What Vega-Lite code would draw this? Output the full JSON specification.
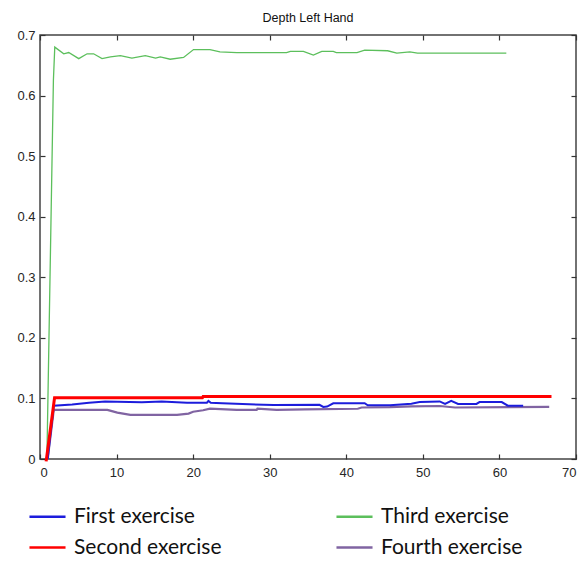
{
  "$schema": "https://vega.github.io/schema/vega-lite/v6.json",
  "width": 536,
  "height": 424,
  "autosize": {"type": "none"},
  "padding": {"left": 40, "top": 35, "right": 9, "bottom": 103},
  "background": "white",
  "title": {"text": "Depth Left Hand", "font": "Liberation Sans", "fontSize": 12.5, "fontWeight": "normal", "color": "#111111", "anchor": "middle", "offset": 5},
  "config": {
    "view": {"stroke": "#444444", "strokeWidth": 1.5},
    "axis": {"grid": false, "domain": false, "tickColor": "#333333", "tickSize": -5, "tickWidth": 1.2, "labelFont": "Liberation Sans", "labelFontSize": 13, "labelColor": "#262626", "title": null}
  },
  "data": {"values": [
    {"ex": "First exercise", "t": 1.0, "v": 0.0},
    {"ex": "First exercise", "t": 1.8, "v": 0.088},
    {"ex": "First exercise", "t": 4.2, "v": 0.09},
    {"ex": "First exercise", "t": 6.4, "v": 0.093},
    {"ex": "First exercise", "t": 8.5, "v": 0.095},
    {"ex": "First exercise", "t": 13.3, "v": 0.0936},
    {"ex": "First exercise", "t": 15.9, "v": 0.095},
    {"ex": "First exercise", "t": 19.2, "v": 0.093},
    {"ex": "First exercise", "t": 21.8, "v": 0.093},
    {"ex": "First exercise", "t": 22.0, "v": 0.096},
    {"ex": "First exercise", "t": 22.3, "v": 0.093},
    {"ex": "First exercise", "t": 23.8, "v": 0.092},
    {"ex": "First exercise", "t": 30.5, "v": 0.089},
    {"ex": "First exercise", "t": 36.5, "v": 0.0895},
    {"ex": "First exercise", "t": 37.0, "v": 0.086},
    {"ex": "First exercise", "t": 37.5, "v": 0.0865},
    {"ex": "First exercise", "t": 38.3, "v": 0.092},
    {"ex": "First exercise", "t": 42.4, "v": 0.092},
    {"ex": "First exercise", "t": 42.8, "v": 0.0887},
    {"ex": "First exercise", "t": 45.7, "v": 0.0887},
    {"ex": "First exercise", "t": 48.5, "v": 0.0914},
    {"ex": "First exercise", "t": 49.6, "v": 0.094},
    {"ex": "First exercise", "t": 52.2, "v": 0.095},
    {"ex": "First exercise", "t": 52.9, "v": 0.091},
    {"ex": "First exercise", "t": 53.7, "v": 0.096},
    {"ex": "First exercise", "t": 54.6, "v": 0.091},
    {"ex": "First exercise", "t": 57.0, "v": 0.091},
    {"ex": "First exercise", "t": 57.4, "v": 0.094},
    {"ex": "First exercise", "t": 60.3, "v": 0.094},
    {"ex": "First exercise", "t": 61.1, "v": 0.088},
    {"ex": "First exercise", "t": 63.1, "v": 0.088},
    {"ex": "Second exercise", "t": 0.8, "v": -0.004},
    {"ex": "Second exercise", "t": 1.9, "v": 0.101},
    {"ex": "Second exercise", "t": 21.2, "v": 0.101},
    {"ex": "Second exercise", "t": 21.3, "v": 0.103},
    {"ex": "Second exercise", "t": 52.2, "v": 0.103},
    {"ex": "Second exercise", "t": 66.8, "v": 0.103},
    {"ex": "Third exercise", "t": 0.9, "v": 0.0},
    {"ex": "Third exercise", "t": 1.75, "v": 0.625},
    {"ex": "Third exercise", "t": 1.93, "v": 0.68},
    {"ex": "Third exercise", "t": 3.1, "v": 0.669},
    {"ex": "Third exercise", "t": 3.75, "v": 0.671},
    {"ex": "Third exercise", "t": 5.06, "v": 0.661},
    {"ex": "Third exercise", "t": 6.15, "v": 0.669},
    {"ex": "Third exercise", "t": 7.0, "v": 0.669},
    {"ex": "Third exercise", "t": 8.1, "v": 0.661},
    {"ex": "Third exercise", "t": 9.2, "v": 0.664},
    {"ex": "Third exercise", "t": 10.5, "v": 0.666},
    {"ex": "Third exercise", "t": 12.0, "v": 0.662},
    {"ex": "Third exercise", "t": 13.75, "v": 0.666},
    {"ex": "Third exercise", "t": 15.1, "v": 0.662},
    {"ex": "Third exercise", "t": 15.7, "v": 0.664},
    {"ex": "Third exercise", "t": 17.0, "v": 0.66},
    {"ex": "Third exercise", "t": 18.75, "v": 0.663},
    {"ex": "Third exercise", "t": 20.05, "v": 0.676},
    {"ex": "Third exercise", "t": 22.2, "v": 0.676},
    {"ex": "Third exercise", "t": 23.5, "v": 0.672},
    {"ex": "Third exercise", "t": 25.7, "v": 0.671},
    {"ex": "Third exercise", "t": 32.2, "v": 0.671},
    {"ex": "Third exercise", "t": 32.7, "v": 0.673},
    {"ex": "Third exercise", "t": 34.4, "v": 0.673},
    {"ex": "Third exercise", "t": 35.7, "v": 0.667},
    {"ex": "Third exercise", "t": 36.8, "v": 0.673},
    {"ex": "Third exercise", "t": 38.3, "v": 0.673},
    {"ex": "Third exercise", "t": 38.7, "v": 0.671},
    {"ex": "Third exercise", "t": 41.4, "v": 0.671},
    {"ex": "Third exercise", "t": 42.4, "v": 0.675},
    {"ex": "Third exercise", "t": 45.4, "v": 0.674},
    {"ex": "Third exercise", "t": 46.6, "v": 0.67},
    {"ex": "Third exercise", "t": 48.3, "v": 0.672},
    {"ex": "Third exercise", "t": 49.3, "v": 0.67},
    {"ex": "Third exercise", "t": 60.9, "v": 0.67},
    {"ex": "Fourth exercise", "t": 1.0, "v": 0.0},
    {"ex": "Fourth exercise", "t": 1.8, "v": 0.081},
    {"ex": "Fourth exercise", "t": 8.8, "v": 0.081},
    {"ex": "Fourth exercise", "t": 10.1, "v": 0.0765},
    {"ex": "Fourth exercise", "t": 11.8, "v": 0.073},
    {"ex": "Fourth exercise", "t": 17.9, "v": 0.073},
    {"ex": "Fourth exercise", "t": 19.4, "v": 0.075},
    {"ex": "Fourth exercise", "t": 20.0, "v": 0.078},
    {"ex": "Fourth exercise", "t": 21.3, "v": 0.0805},
    {"ex": "Fourth exercise", "t": 22.2, "v": 0.083},
    {"ex": "Fourth exercise", "t": 25.7, "v": 0.081},
    {"ex": "Fourth exercise", "t": 28.3, "v": 0.081},
    {"ex": "Fourth exercise", "t": 28.4, "v": 0.083},
    {"ex": "Fourth exercise", "t": 30.9, "v": 0.081},
    {"ex": "Fourth exercise", "t": 34.6, "v": 0.082},
    {"ex": "Fourth exercise", "t": 41.5, "v": 0.083},
    {"ex": "Fourth exercise", "t": 42.0, "v": 0.085},
    {"ex": "Fourth exercise", "t": 45.7, "v": 0.0855},
    {"ex": "Fourth exercise", "t": 48.5, "v": 0.087},
    {"ex": "Fourth exercise", "t": 52.2, "v": 0.0875},
    {"ex": "Fourth exercise", "t": 54.2, "v": 0.085},
    {"ex": "Fourth exercise", "t": 66.5, "v": 0.086}
  ]},
  "layer": [
    {
      "encoding": {
        "x": {"field": "t", "type": "quantitative", "scale": {"domain": [0, 70], "nice": false}, "axis": {"values": [0,10,20,30,40,50,60,70], "labelPadding": 12, "format": "d"}},
        "y": {"field": "v", "type": "quantitative", "scale": {"domain": [0, 0.7], "nice": false}, "axis": {"values": [0,0.1,0.2,0.3,0.4,0.5,0.6,0.7], "labelPadding": 10, "labelExpr": "datum.value == 0 ? '0' : format(datum.value, '.1f')"}},
        "color": {"field": "ex", "type": "nominal", "scale": {"domain": ["First exercise", "Second exercise", "Third exercise", "Fourth exercise"], "range": ["#1c1cdc", "#ff0000", "#5cbf5c", "#8064a2"]},
          "legend": {"orient": "none", "legendX": -12, "legendY": 462, "columns": 2, "title": null, "symbolType": "stroke", "symbolSize": 1300, "symbolStrokeWidth": 2.5, "labelFont": "Lato", "labelFontSize": 21, "labelColor": "#111111", "labelOffset": 7, "columnPadding": 109, "rowPadding": 1, "labelLimit": 300,
            "encode": {"symbols": {"update": {"strokeWidth": {"value": 2.5}}}}}},
        "order": {"field": "t", "type": "quantitative"}
      },
      "layer": [
        {
          "transform": [{"filter": "datum.ex == 'Third exercise'"}],
          "mark": {"type": "line", "clip": false, "strokeWidth": 1.3}
        },
        {
          "transform": [{"filter": "datum.ex == 'Fourth exercise'"}],
          "mark": {"type": "line", "clip": false, "strokeWidth": 2.2}
        },
        {
          "transform": [{"filter": "datum.ex == 'First exercise'"}],
          "mark": {"type": "line", "clip": false, "strokeWidth": 2}
        },
        {
          "transform": [{"filter": "datum.ex == 'Second exercise'"}],
          "mark": {"type": "line", "clip": false, "strokeWidth": 3}
        }
      ]
    },
    {
      "mark": {"type": "point", "opacity": 0},
      "encoding": {
        "x": {"field": "t", "type": "quantitative", "axis": {"orient": "top", "values": [0,10,20,30,40,50,60,70], "labels": false}},
        "y": {"field": "v", "type": "quantitative", "axis": {"orient": "right", "values": [0,0.1,0.2,0.3,0.4,0.5,0.6,0.7], "labels": false}}
      }
    }
  ],
  "resolve": {"axis": {"x": "independent", "y": "independent"}}
}
